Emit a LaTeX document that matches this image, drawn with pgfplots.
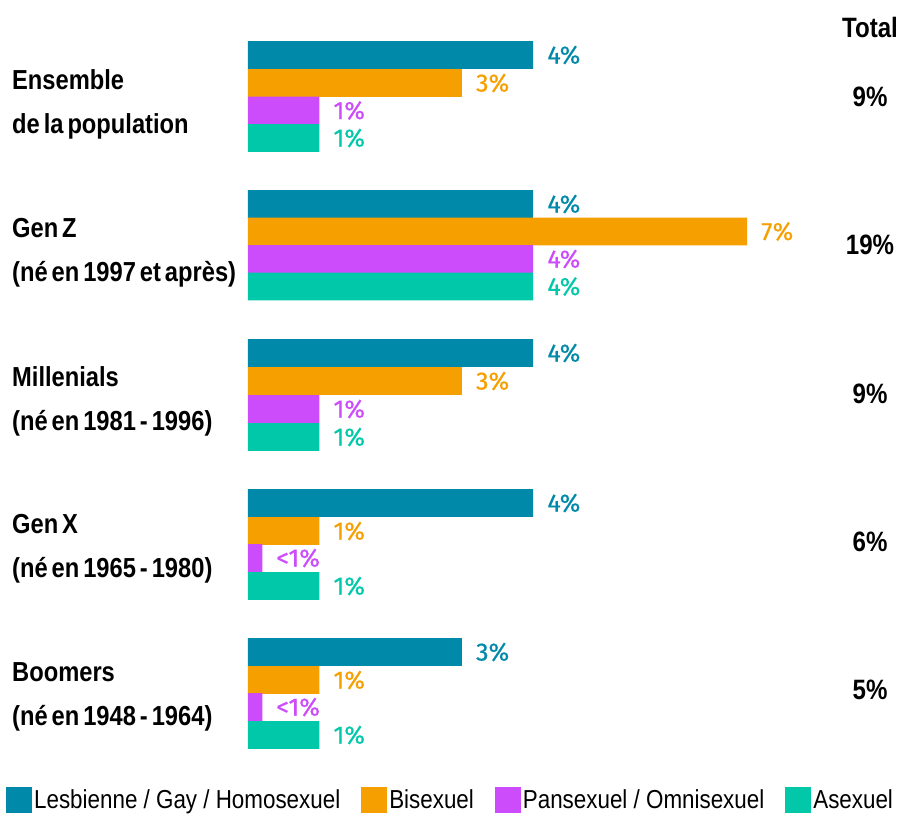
\documentclass[border=0pt]{standalone}
\usepackage{fontspec}
\setmainfont{Liberation Sans}
\newfontfamily\cond[FakeStretch=0.86]{Liberation Sans}
\newfontfamily\legf[FakeStretch=0.861]{Liberation Sans}
\newfontfamily\catf[FakeStretch=0.862, WordSpace=0.6]{Liberation Sans}
\newfontfamily\lab[FakeBold=0.6]{Fira Sans}
\usepackage{pgfplots}
\pgfplotsset{compat=1.18}
\definecolor{cteal}{HTML}{0089A8}
\definecolor{corange}{HTML}{F59F00}
\definecolor{cpurple}{HTML}{CC4BFA}
\definecolor{cturq}{HTML}{00C8A8}
\begin{document}
\begin{tikzpicture}
\begin{axis}[
  x=71.3bp, y=1bp, y dir=reverse,
  xmin=0, xmax=8.9, ymin=0, ymax=814,
  axis lines=none, clip=false,
  xbar, bar shift=0pt, bar width=27.7bp,
  nodes near coords, point meta=explicit symbolic,
  every node near coord/.append style={anchor=west, inner sep=0pt, xshift=14bp,
     font=\lab\fontsize{25bp}{25bp}\selectfont},
  legend columns=4,
  legend image code/.code={\fill[#1] (0bp,-13bp) rectangle (26bp,13bp);},
  legend style={at={(-0.3814,0.0172)}, anchor=west, draw=none, fill=none, inner sep=0pt,
     font=\legf\fontsize{26bp}{26bp}\selectfont,
     nodes={inner sep=2bp},
     /tikz/every even column/.append style={column sep=19bp}},
]
\addplot[fill=cteal, draw=none, every node near coord/.append style={text=cteal}]
  coordinates {(4,55) [4\%] (4,204) [4\%] (4,353) [4\%] (4,503) [4\%] (3,652) [3\%]};
\addlegendentry{Lesbienne / Gay / Homosexuel}
\addplot[fill=corange, draw=none, every node near coord/.append style={text=corange}]
  coordinates {(3,83) [3\%] (7,231.5) [7\%] (3,381) [3\%] (1,531) [1\%] (1,680) [1\%]};
\addlegendentry{Bisexuel}
\addplot[fill=cpurple, draw=none, every node near coord/.append style={text=cpurple}]
  coordinates {(1,110.5) [1\%] (4,259) [4\%] (1,409) [1\%] (0.2,558) [<1\%] (0.2,707) [<1\%]};
\addlegendentry{Pansexuel / Omnisexuel}
\addplot[fill=cturq, draw=none, every node near coord/.append style={text=cturq}]
  coordinates {(1,138) [1\%] (4,286.5) [4\%] (1,437) [1\%] (1,586) [1\%] (1,735) [1\%]};
\addlegendentry{Asexuel}

\path (axis cs:-3.478,0) rectangle (axis cs:9.186,814);

\tikzset{cat/.style={anchor=west, align=left, inner sep=0pt,
   font=\catf\bfseries\fontsize{27.5bp}{44bp}\selectfont}}
\node[cat] at (axis cs:-3.31,104) {Ensemble\\de la population};
\node[cat] at (axis cs:-3.31,253) {Gen Z\\(né en 1997 et après)};
\node[cat] at (axis cs:-3.31,401.5) {Millenials\\(né en 1981 - 1996)};
\node[cat] at (axis cs:-3.31,548.5) {Gen X\\(né en 1965 - 1980)};
\node[cat] at (axis cs:-3.31,696.5) {Boomers\\(né en 1948 - 1964)};

\tikzset{tot/.style={anchor=center, inner sep=0pt,
   font=\cond\bfseries\fontsize{28bp}{28bp}\selectfont}}
\node[tot] at (axis cs:8.724,27) {Total};
\node[tot] at (axis cs:8.724,97) {9\%};
\node[tot] at (axis cs:8.724,245) {19\%};
\node[tot] at (axis cs:8.724,394) {9\%};
\node[tot] at (axis cs:8.724,542) {6\%};
\node[tot] at (axis cs:8.724,690) {5\%};
\end{axis}
\end{tikzpicture}
\end{document}
